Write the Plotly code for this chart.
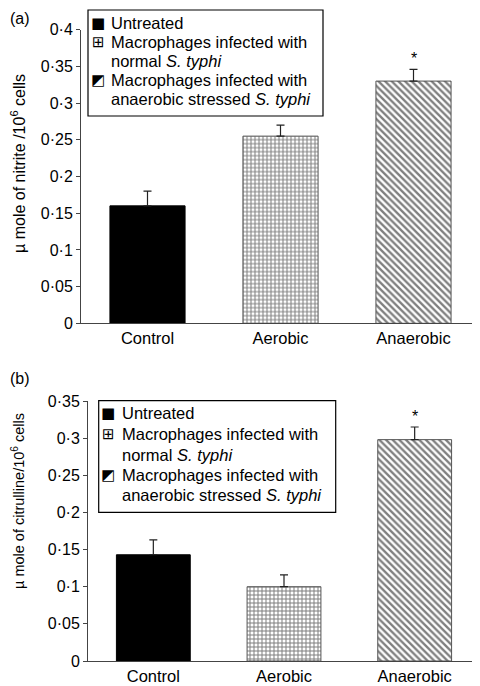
import plotly.graph_objects as go

categories = ["Control", "Aerobic", "Anaerobic"]
legend_lines = [
    ["Untreated"],
    ["Macrophages infected with", "normal <i>S. typhi</i>"],
    ["Macrophages infected with", "anaerobic stressed <i>S. typhi</i>"],
]
legend_glyphs = ["■", "⊞", "◩"]
nitrite = [0.16, 0.255, 0.33]
nitrite_err = [0.02, 0.015, 0.016]
citrulline = [0.143, 0.10, 0.298]
citrulline_err = [0.02, 0.016, 0.017]
significant = [False, False, True]
ticks_a = [0, 0.05, 0.1, 0.15, 0.2, 0.25, 0.3, 0.35, 0.4]
ticks_b = [0, 0.05, 0.1, 0.15, 0.2, 0.25, 0.3, 0.35]
ytitle_a = "µ mole of nitrite /10<sup>6</sup> cells"
ytitle_b = "µ mole of citrulline/10<sup>6</sup> cells"

# the page body has an 8px margin, so the figure starts at (8, 8) in the window
OFF = 8
W, H = 480 - OFF, 686 - OFF
FONT = "Liberation Sans, Arial, sans-serif"

def px(xp):
    return (xp - OFF) / W

def py(yp):
    return 1 - (yp - OFF) / H

def tick_text(v):
    return f"{v:g}".replace(".", "·")

patterns = [
    dict(shape=""),
    dict(shape="+", size=4, solidity=0.44, fgcolor="black", bgcolor="white"),
    dict(shape="\\", size=4.7, solidity=0.5, fgcolor="black", bgcolor="white"),
]
fills = ["black", "white", "white"]
outline = ["black", "#555", "#555"]

fig = go.Figure()

for vals, errs, xa, ya in [
    (nitrite, nitrite_err, "x", "y"),
    (citrulline, citrulline_err, "x2", "y2"),
]:
    for i, cat in enumerate(categories):
        fig.add_trace(go.Bar(
            x=[cat], y=[vals[i]], name=legend_lines[i][0],
            xaxis=xa, yaxis=ya, showlegend=False,
            width=0.565,
            marker=dict(color=fills[i], pattern=patterns[i],
                        line=dict(color=outline[i], width=1)),
            error_y=dict(type="data", symmetric=False, array=[errs[i]],
                         arrayminus=[0], color="#222", thickness=1.2, width=4),
        ))
        if significant[i]:
            fig.add_annotation(x=cat, y=vals[i] + errs[i], xref=xa, yref=ya,
                               text="*", showarrow=False, yanchor="bottom",
                               yshift=0, font=dict(size=16, color="black", family=FONT))

axis_common = dict(showline=True, linecolor="#444", linewidth=1, showgrid=False,
                   zeroline=False, automargin=False,
                   tickfont=dict(size=16, color="black", family=FONT))
xcommon = dict(categoryorder="array", categoryarray=categories, ticks="", ticklen=0,
               range=[-0.5, 2.5], showline=True, linecolor="#444", linewidth=1,
               showgrid=False, zeroline=False, automargin=False,
               tickfont=dict(size=16.5, color="black", family=FONT))

fig.update_layout(
    width=W, height=H,
    margin=dict(l=0, r=0, t=0, b=0, autoexpand=False),
    paper_bgcolor="white", plot_bgcolor="white",
    barmode="overlay",
    font=dict(family=FONT, size=16, color="black"),
    showlegend=False,
    xaxis=dict(domain=[px(81), 1.0], anchor="y", **xcommon),
    yaxis=dict(domain=[py(323.3), py(29.7)], anchor="x", range=[0, 0.4],
               tickvals=ticks_a, ticktext=[tick_text(v) for v in ticks_a],
               ticks="outside", ticklen=4, tickcolor="#444", **axis_common),
    xaxis2=dict(domain=[px(88), 1.0], anchor="y2", **xcommon),
    yaxis2=dict(domain=[py(661), py(401)], anchor="x2", range=[0, 0.35],
                tickvals=ticks_b, ticktext=[tick_text(v) for v in ticks_b],
                ticks="outside", ticklen=4, tickcolor="#444", **axis_common),
)

# manual legends: box (left, top, right, bottom), line y-centres, symbol x, text x
legend_specs = [
    dict(box=(88, 10, 323, 116), lines=[23, 42, 61, 80, 99], sym_x=98, text_x=109),
    dict(box=(98.7, 400.7, 335.7, 512.3), lines=[413, 434, 454.5, 475, 495.5], sym_x=108, text_x=119.5),
]
for spec in legend_specs:
    l, t, r, b = spec["box"]
    fig.add_shape(type="rect", xref="paper", yref="paper",
                  x0=px(l), x1=px(r), y0=py(b), y1=py(t),
                  line=dict(color="black", width=1.2), fillcolor="white", layer="above")
    k = 0
    for i, lines in enumerate(legend_lines):
        fig.add_annotation(x=px(spec["sym_x"]), y=py(spec["lines"][k]), xref="paper", yref="paper",
                           text=legend_glyphs[i], showarrow=False, xanchor="center",
                           yanchor="middle", font=dict(size=15, family="DejaVu Sans", color="black"))
        for line in lines:
            fig.add_annotation(x=px(spec["text_x"]), y=py(spec["lines"][k]), xref="paper",
                               yref="paper", text=line, showarrow=False, xanchor="left",
                               yanchor="middle", font=dict(size=16.5, family=FONT, color="black"))
            k += 1

# panel labels and y-axis titles
fig.add_annotation(x=0, y=1, xref="paper", yref="paper", text="(a)",
                   showarrow=False, xanchor="left", yanchor="top", font=dict(size=16))
fig.add_annotation(x=0, y=py(378), xref="paper", yref="paper", text="(b)",
                   showarrow=False, xanchor="left", yanchor="middle", font=dict(size=16))
fig.add_annotation(x=px(18), y=py(164), xref="paper", yref="paper",
                   text=ytitle_a, textangle=-90,
                   showarrow=False, xanchor="center", yanchor="middle", font=dict(size=16))
fig.add_annotation(x=px(18), y=py(501), xref="paper", yref="paper",
                   text=ytitle_b, textangle=-90,
                   showarrow=False, xanchor="center", yanchor="middle", font=dict(size=14.5))

fig.write_html("out.html")
